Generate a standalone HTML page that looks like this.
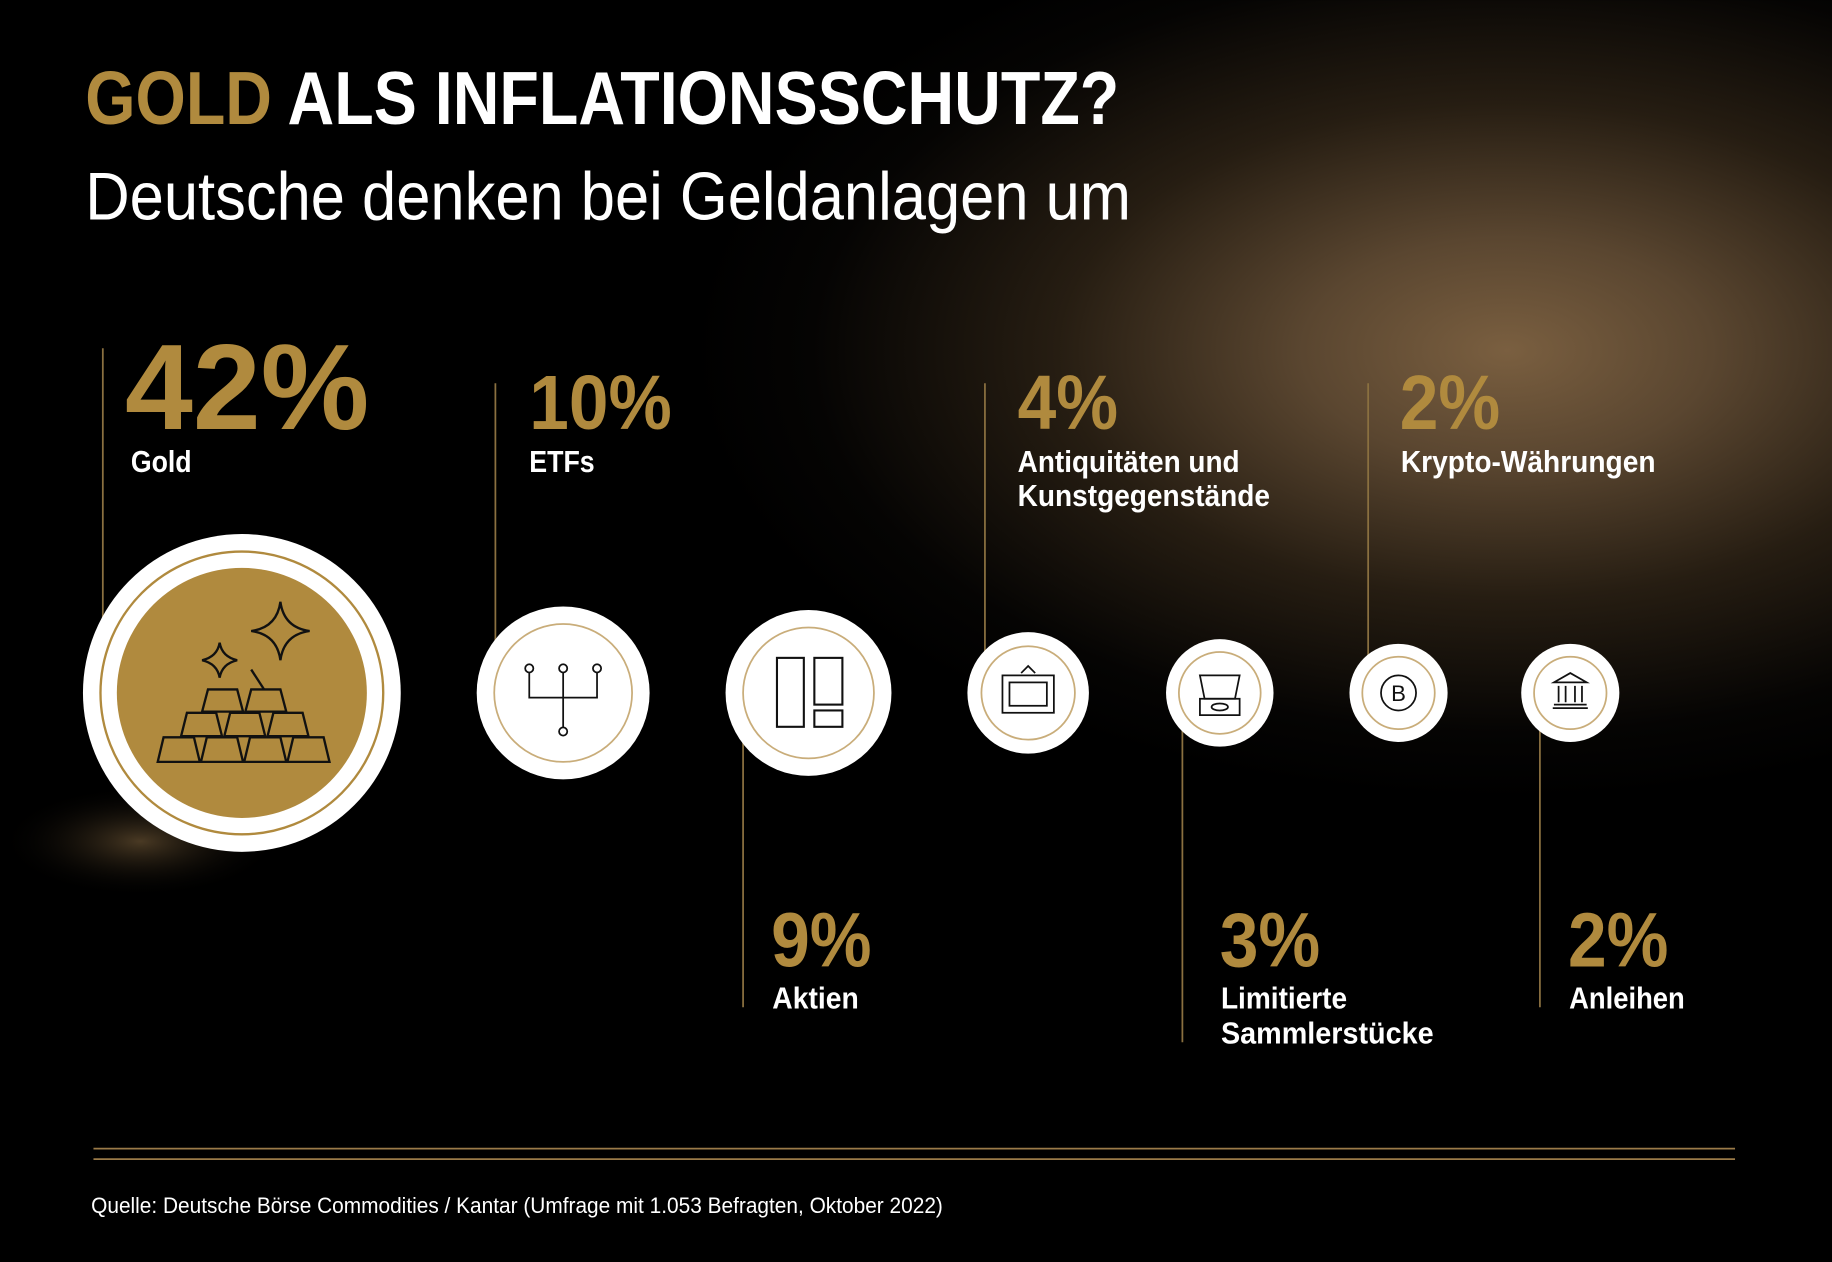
<!DOCTYPE html>
<html><head><meta charset="utf-8"><style>
html,body{margin:0;padding:0;background:#000;}
svg{display:block;}
text{font-family:"Liberation Sans Narrow","Liberation Sans",sans-serif;}
</style></head><body>
<svg width="1832" height="1262" viewBox="0 0 1568 1080" xmlns="http://www.w3.org/2000/svg">
<defs>
<radialGradient id="g1" cx="1290" cy="300" r="700" gradientUnits="userSpaceOnUse" gradientTransform="translate(1290 300) scale(1 0.55) translate(-1290 -300)">
<stop offset="0" stop-color="#7a5f40"/><stop offset="0.25" stop-color="#5a4630"/><stop offset="0.55" stop-color="#261d12"/><stop offset="0.85" stop-color="#050403"/><stop offset="1" stop-color="#000"/>
</radialGradient>
<radialGradient id="g2" cx="120" cy="720" r="120" gradientUnits="userSpaceOnUse" gradientTransform="translate(120 720) scale(1 0.4) translate(-120 -720)">
<stop offset="0" stop-color="#4a3a24"/><stop offset="1" stop-color="#000" stop-opacity="0"/>
</radialGradient>
</defs>
<rect width="1568" height="1080" fill="#000"/>
<rect width="1568" height="1080" fill="url(#g1)"/>
<rect width="1568" height="1080" fill="url(#g2)"/>

<text x="73" y="106" font-size="64" font-weight="bold" fill="#ffffff" textLength="885" lengthAdjust="spacingAndGlyphs"><tspan fill="#b08a3e">GOLD</tspan> ALS INFLATIONSSCHUTZ?</text>
<text x="73" y="188" font-size="58" fill="#ffffff" textLength="895" lengthAdjust="spacingAndGlyphs">Deutsche denken bei Geldanlagen um</text>

<g stroke="#8a7040" stroke-width="1.5">
<line x1="88" y1="298" x2="88" y2="600"/>
<line x1="424" y1="328" x2="424" y2="590"/>
<line x1="636" y1="600" x2="636" y2="862"/>
<line x1="843" y1="328" x2="843" y2="590"/>
<line x1="1012" y1="600" x2="1012" y2="892"/>
<line x1="1171" y1="328" x2="1171" y2="590"/>
<line x1="1318" y1="600" x2="1318" y2="862"/>
</g>

<g font-weight="bold" fill="#b08a3e">
<text x="107" y="367" font-size="104" textLength="209" lengthAdjust="spacingAndGlyphs">42%</text>
<text x="453" y="367" font-size="66" textLength="122" lengthAdjust="spacingAndGlyphs">10%</text>
<text x="660" y="827" font-size="66" textLength="86" lengthAdjust="spacingAndGlyphs">9%</text>
<text x="871" y="367" font-size="66" textLength="86" lengthAdjust="spacingAndGlyphs">4%</text>
<text x="1044" y="827" font-size="66" textLength="86" lengthAdjust="spacingAndGlyphs">3%</text>
<text x="1198" y="367" font-size="66" textLength="86" lengthAdjust="spacingAndGlyphs">2%</text>
<text x="1342" y="827" font-size="66" textLength="86" lengthAdjust="spacingAndGlyphs">2%</text>
</g>
<g font-weight="bold" fill="#fff" font-size="26">
<text x="112" y="404" textLength="52" lengthAdjust="spacingAndGlyphs">Gold</text>
<text x="453" y="404" textLength="56" lengthAdjust="spacingAndGlyphs">ETFs</text>
<text x="661" y="863" textLength="74" lengthAdjust="spacingAndGlyphs">Aktien</text>
<text x="871" y="404" textLength="190" lengthAdjust="spacingAndGlyphs">Antiquitäten und</text>
<text x="871" y="433" textLength="216" lengthAdjust="spacingAndGlyphs">Kunstgegenstände</text>
<text x="1045" y="863" textLength="108" lengthAdjust="spacingAndGlyphs">Limitierte</text>
<text x="1045" y="893" textLength="182" lengthAdjust="spacingAndGlyphs">Sammlerstücke</text>
<text x="1199" y="404" textLength="218" lengthAdjust="spacingAndGlyphs">Krypto-Währungen</text>
<text x="1343" y="863" textLength="99" lengthAdjust="spacingAndGlyphs">Anleihen</text>
</g>

<circle cx="207" cy="593" r="136" fill="#fff"/>
<circle cx="207" cy="593" r="121" fill="none" stroke="#b08a3e" stroke-width="2"/>
<circle cx="207" cy="593" r="107" fill="#b08a3e"/>
<g fill="none" stroke="#111" stroke-width="2">
<path d="M135 652 L140 631 L166 631 L171 652 Z M172 652 L177 631 L203 631 L208 652 Z M209 652 L214 631 L240 631 L245 652 Z M246 652 L251 631 L277 631 L282 652 Z"/>
<path d="M155 630 L160 610 L185 610 L190 630 Z M192 630 L197 610 L222 610 L227 630 Z M229 630 L234 610 L259 610 L264 630 Z"/>
<path d="M173 609 L178 590 L203 590 L208 609 Z M210 609 L215 590 L240 590 L245 609 Z"/>
<line x1="215" y1="573" x2="226" y2="590"/>
<path d="M240 515 Q243 537 265 540 Q243 543 240 565 Q237 543 215 540 Q237 537 240 515 Z"/>
<path d="M188 550 Q190 562 203 565 Q190 568 188 580 Q186 568 173 565 Q186 562 188 550 Z"/>
</g>

<circle cx="482" cy="593" r="74" fill="#fff"/>
<circle cx="482" cy="593" r="59" fill="none" stroke="#c9ad7a" stroke-width="1.5"/>
<g fill="#fff" stroke="#111" stroke-width="1.5">
<path d="M453 575 V597 H511 V575 M482 575 V624" fill="none"/>
<circle cx="453" cy="572" r="3.5"/><circle cx="482" cy="572" r="3.5"/><circle cx="511" cy="572" r="3.5"/><circle cx="482" cy="626" r="3.5"/>
</g>

<circle cx="692" cy="593" r="71" fill="#fff"/>
<circle cx="692" cy="593" r="56" fill="none" stroke="#c9ad7a" stroke-width="1.5"/>
<g fill="none" stroke="#111" stroke-width="1.8">
<rect x="665" y="563" width="23" height="59"/><rect x="697" y="563" width="24" height="40"/><rect x="697" y="608" width="24" height="14"/>
</g>

<circle cx="880" cy="593" r="52" fill="#fff"/>
<circle cx="880" cy="593" r="40" fill="none" stroke="#c9ad7a" stroke-width="1.5"/>
<g fill="none" stroke="#111" stroke-width="1.5">
<rect x="858" y="578" width="44" height="32"/><rect x="864" y="584" width="32" height="20"/>
<path d="M874 576 L880 570 L886 576"/>
</g>

<circle cx="1044" cy="593" r="46" fill="#fff"/>
<circle cx="1044" cy="593" r="35" fill="none" stroke="#c9ad7a" stroke-width="1.5"/>
<g fill="none" stroke="#111" stroke-width="1.5">
<path d="M1027 578 H1061 L1057 598 H1031 Z"/><rect x="1027" y="598" width="34" height="14"/><ellipse cx="1044" cy="605" rx="7" ry="3"/>
</g>

<circle cx="1197" cy="593" r="42" fill="#fff"/>
<circle cx="1197" cy="593" r="31" fill="none" stroke="#c9ad7a" stroke-width="1.5"/>
<circle cx="1197" cy="593" r="15" fill="none" stroke="#111" stroke-width="1.5"/>
<text x="1197" y="600" font-size="19" text-anchor="middle" fill="#111">B</text>

<circle cx="1344" cy="593" r="42" fill="#fff"/>
<circle cx="1344" cy="593" r="31" fill="none" stroke="#c9ad7a" stroke-width="1.5"/>
<g fill="none" stroke="#111" stroke-width="1.5">
<path d="M1330 584 L1344 576 L1358 584 Z"/><path d="M1334 587 V601 M1340 587 V601 M1348 587 V601 M1354 587 V601"/><path d="M1330 603 H1358 M1329 606 H1359"/>
</g>

<g stroke="#9a7a48" stroke-width="1.5">
<line x1="80" y1="983" x2="1485" y2="983"/>
<line x1="80" y1="992" x2="1485" y2="992"/>
</g>
<text x="78" y="1038" font-size="19" fill="#fff" textLength="729" lengthAdjust="spacingAndGlyphs">Quelle: Deutsche Börse Commodities / Kantar (Umfrage mit 1.053 Befragten, Oktober 2022)</text>
</svg>
</body></html>
